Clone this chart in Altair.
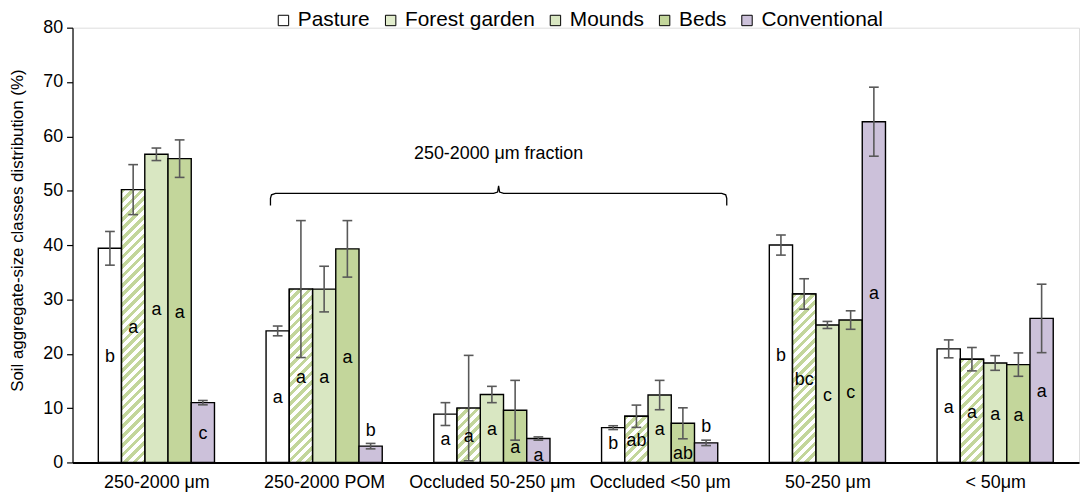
import altair as alt
import pandas as pd
import math

# ---------------- data ----------------
groups = ["250-2000 μm", "250-2000 POM", "Occluded 50-250 μm",
          "Occluded <50 μm", "50-250 μm", "< 50μm"]
series = ["Pasture", "Forest garden", "Mounds", "Beds", "Conventional"]

pasture = [39.4, 24.2, 8.9, 6.4, 40.0, 20.9]
forest = [50.2, 31.9, 10.0, 8.5, 31.0, 19.0]
mounds = [56.7, 31.9, 12.5, 12.4, 25.3, 18.3]
beds = [55.9, 39.3, 9.6, 7.2, 26.2, 18.0]
conventional = [11.0, 3.0, 4.4, 3.6, 62.7, 26.5]

pasture_err = [3.1, 0.9, 2.1, 0.35, 1.85, 1.65]
forest_err = [4.6, 12.6, 9.7, 2.05, 2.8, 2.15]
mounds_err = [1.15, 4.2, 1.5, 2.7, 0.65, 1.35]
beds_err = [3.45, 5.2, 5.5, 2.85, 1.7, 2.15]
conventional_err = [0.4, 0.5, 0.3, 0.5, 6.35, 6.3]

pasture_letters = ["b", "a", "a", "b", "b", "a"]
forest_letters = ["a", "a", "a", "ab", "bc", "a"]
mounds_letters = ["a", "a", "a", "a", "c", "a"]
beds_letters = ["a", "a", "a", "ab", "c", "a"]
conventional_letters = ["c", "b", "a", "b", "a", "a"]

# vertical position (in %) of each letter
pasture_label_y = [19.4, 11.8, 4.1, 3.3, 19.6, 10.0]
forest_label_y = [24.8, 15.5, 4.6, 3.9, 15.2, 9.1]
mounds_label_y = [28.0, 15.5, 5.9, 5.9, 12.3, 8.8]
beds_label_y = [27.5, 19.3, 2.6, 1.6, 12.8, 8.5]
conventional_label_y = [5.2, 5.7, 1.2, 6.5, 30.9, 12.9]

y_ticks = [0, 10, 20, 30, 40, 50, 60, 70, 80]
bracket_text = "250-2000 μm fraction"

# ---------------- styling ----------------
WIDTH, HEIGHT = 1014, 438
BW = 0.1385          # bar width in group units
CAP = 0.058          # error-cap width in group units
FONT = "Liberation Sans"
colors = ["#ffffff", "#e2edcd", "#d9e7c2", "#c3d69b", "#ccc1da"]
STRIPE = "#c3d69b"

vals = [pasture, forest, mounds, beds, conventional]
errs = [pasture_err, forest_err, mounds_err, beds_err, conventional_err]
lets = [pasture_letters, forest_letters, mounds_letters, beds_letters, conventional_letters]
laby = [pasture_label_y, forest_label_y, mounds_label_y, beds_label_y, conventional_label_y]

rows = []
for si, s in enumerate(series):
    for gi, g in enumerate(groups):
        x0 = gi + 0.5 + (si - 2.5) * BW
        v, e = vals[si][gi], errs[si][gi]
        rows.append(dict(series=s, si=si, group=g, gi=gi, x0=x0, x1=x0 + BW,
                         xc=x0 + BW / 2, c0=x0 + BW / 2 - CAP / 2, c1=x0 + BW / 2 + CAP / 2,
                         value=v, lo=v - e, hi=v + e, zero=0,
                         letter=lets[si][gi], ly=laby[si][gi]))
df = pd.DataFrame(rows)

xscale = alt.Scale(domain=[0, 6], nice=False, zero=False)
yscale = alt.Scale(domain=[0, 80], nice=False)

label_expr = "[" + ",".join("'" + g + "'" for g in groups) + "][floor(datum.value)]"

base = alt.Chart(df)

bars = base.mark_rect(stroke="black", strokeWidth=1.4).encode(
    x=alt.X("x0:Q", scale=xscale,
            axis=alt.Axis(values=[i + 0.5 for i in range(6)], labelExpr=label_expr,
                          title=None, grid=False, ticks=False, labelFontSize=18,
                          labelColor="black", labelPadding=11, domainColor="black",
                          domainWidth=2, labelFont=FONT)),
    x2="x1:Q",
    y=alt.Y("value:Q", scale=yscale,
            axis=alt.Axis(values=y_ticks, grid=False, title="Soil aggregate-size classes distribution (%)",
                          titleFontSize=17, titleFontWeight="normal", titleColor="black",
                          titlePadding=16, titleFont=FONT, titleY=204,
                          labelFontSize=18, labelColor="black", labelFont=FONT,
                          tickColor="black", tickSize=6, tickWidth=1.2, labelPadding=4,
                          domainColor="black", domainWidth=1.2)),
    y2="zero:Q",
    color=alt.Color("series:N", scale=alt.Scale(domain=series, range=colors),
                    legend=alt.Legend(title=None, orient="none", legendX=202, legendY=-18,
                                      direction="horizontal", symbolType="square",
                                      symbolSize=110, symbolStrokeColor="black",
                                      symbolStrokeWidth=1, labelFontSize=21, labelFont=FONT,
                                      labelColor="black", columnPadding=10, labelOffset=4)),
)

# striped Forest garden bars (diagonal stripes built from a hard-stop gradient)
px_x = WIDTH / 6
px_y = HEIGHT / 80
period = 9.5
stripe_layers = []
for gi in range(len(groups)):
    w = BW * px_x
    h = forest[gi] * px_y
    k = w / (w * w + h * h)
    stops = []
    n = int(math.ceil((w + h) / period)) + 1
    for j in range(n):
        d0 = j * period
        d1 = d0 + period * 0.5
        d2 = d0 + period
        for off, col in [(d0, STRIPE), (d1, STRIPE), (d1, "#ffffff"), (d2, "#ffffff")]:
            stops.append(alt.GradientStop(color=col, offset=min(1.0, off * k)))
    grad = alt.LinearGradient(gradient="linear", stops=stops, x1=0, y1=0, x2=1, y2=h / w)
    stripe_layers.append(
        base.transform_filter((alt.datum.si == 1) & (alt.datum.gi == gi))
        .mark_rect(fill=grad, stroke="black", strokeWidth=1.4)
        .encode(x=alt.X("x0:Q", scale=xscale), x2="x1:Q",
                y=alt.Y("value:Q", scale=yscale), y2="zero:Q")
    )

err_v = base.mark_rule(color="#595959", strokeWidth=1.6).encode(
    x=alt.X("xc:Q", scale=xscale), y=alt.Y("lo:Q", scale=yscale), y2="hi:Q")
cap_hi = base.mark_rule(color="#595959", strokeWidth=1.6).encode(
    x=alt.X("c0:Q", scale=xscale), x2="c1:Q", y=alt.Y("hi:Q", scale=yscale))
cap_lo = base.mark_rule(color="#595959", strokeWidth=1.6).encode(
    x=alt.X("c0:Q", scale=xscale), x2="c1:Q", y=alt.Y("lo:Q", scale=yscale))

letters = base.mark_text(fontSize=18, font=FONT, color="black", baseline="middle",
                         align="center").encode(
    x=alt.X("xc:Q", scale=xscale), y=alt.Y("ly:Q", scale=yscale), text="letter:N")

# curly bracket annotation over groups 2-4
L, R, C = 1.18, 3.90, 2.54
y_line, y_end, y_tip = 49.5, 47.3, 50.9
bracket_x = [L, L, L + 0.006, L + 0.03, C - 0.03, C - 0.006, C, C + 0.006, C + 0.03,
             R - 0.03, R - 0.006, R, R]
bracket_y = [y_end, 48.6, 49.25, y_line, y_line, 49.75, y_tip, 49.75, y_line,
             y_line, 49.25, 48.6, y_end]
bdf = pd.DataFrame({"bx": bracket_x, "by": bracket_y, "o": list(range(len(bracket_x)))})
bracket = alt.Chart(bdf).mark_line(color="black", strokeWidth=1.3).encode(
    x=alt.X("bx:Q", scale=xscale), y=alt.Y("by:Q", scale=yscale), order="o:Q")

tdf = pd.DataFrame({"tx": [C], "ty": [55.9], "t": [bracket_text]})
btext = alt.Chart(tdf).mark_text(fontSize=18, font=FONT, color="black",
                                 baseline="alphabetic", align="center").encode(
    x=alt.X("tx:Q", scale=xscale), y=alt.Y("ty:Q", scale=yscale), text="t:N")

chart = alt.layer(bars, *stripe_layers, err_v, cap_hi, cap_lo, letters, bracket, btext).properties(
    width=WIDTH, height=HEIGHT,
    autosize=alt.AutoSizeParams(type="none"),
    padding={"left": 65, "top": 18, "right": 4, "bottom": 33},
).configure_view(stroke=None).configure(font=FONT)

chart.save("out.html", embed_options={"renderer": "svg", "actions": False})
